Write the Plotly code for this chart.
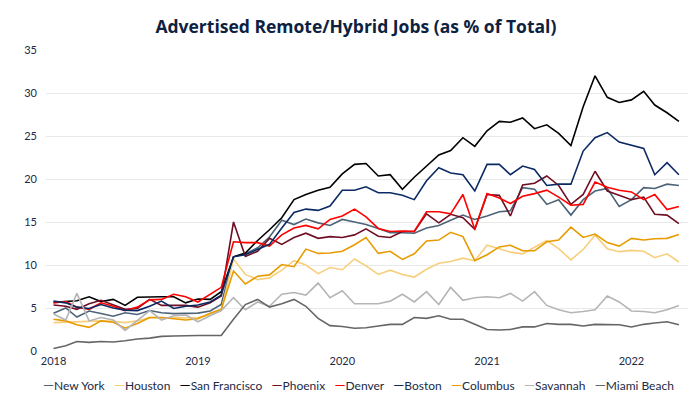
import pandas as pd
import plotly.graph_objects as go

months = pd.date_range("2018-01-01", periods=53, freq="MS")

series_names = ["New York", "Houston", "San Francisco", "Phoenix", "Denver",
                "Boston", "Columbus", "Savannah", "Miami Beach"]
series_colors = ["#4d6478", "#f7cf7c", "#000000", "#6e0f24", "#ff0000",
                 "#0b2a63", "#e89b00", "#b5b5b5", "#666666"]

new_york = [4.4, 5.0, 3.95, 4.65, 4.35, 4.05, 4.45, 4.25, 4.7, 4.45, 4.35, 4.35, 4.4, 4.65, 5.4,
            10.95, 11.3, 12.0, 13.25, 15.2, 14.7, 15.35,
            14.9, 14.6, 15.3, 15.0, 14.7, 14.25, 13.75, 13.75, 13.7, 14.3, 14.6, 15.2, 15.8, 15.3,
            15.7, 16.2, 16.3, 19.0, 18.8, 17.05, 17.6, 15.8, 17.6, 18.6, 18.9, 16.8, 17.6, 19.0,
            18.9, 19.4, 19.25]
houston = [3.3, 3.35, 3.4, 3.5, 3.5, 3.45, 3.3, 3.5, 3.9, 3.8, 3.9, 3.85, 3.9, 4.2, 4.7,
           10.7, 8.9, 8.3, 8.5, 9.4, 10.5, 10.0,
           9.0, 9.7, 9.45, 10.7, 9.9, 8.9, 9.4, 8.9, 8.6, 9.5, 10.2, 10.4, 10.8, 10.5,
           12.3, 11.9, 11.5, 11.3, 12.1, 12.85, 11.9, 10.6, 11.8, 13.45, 11.9, 11.55, 11.7, 11.6,
           10.85, 11.3, 10.35]
san_francisco = [5.65, 5.8, 5.85, 6.3, 5.75, 6.0, 5.3, 6.25, 6.3, 6.3, 6.3, 5.6, 6.05, 6.0, 6.9,
                 10.95, 11.4, 12.85, 14.1, 15.5, 17.6, 18.2,
                 18.7, 19.05, 20.6, 21.7, 21.8, 20.35, 20.5, 18.8, 20.2, 21.5, 22.8, 23.3, 24.8, 23.8,
                 25.6, 26.7, 26.6, 27.1, 25.85, 26.3, 25.3, 23.9, 28.4, 32.0, 29.5, 28.9, 29.2, 30.2,
                 28.6, 27.7, 26.7]
phoenix = [5.35, 5.2, 4.85, 5.5, 5.9, 5.4, 4.85, 4.95, 6.0, 5.3, 5.3, 5.3, 5.1, 5.6, 6.4,
           15.0, 11.0, 11.6, 13.1, 12.4, 13.2, 13.7,
           13.1, 13.3, 13.2, 13.5, 14.2, 13.35, 13.2, 13.9, 13.9, 15.95, 14.9, 15.9, 15.5, 14.15,
           18.2, 18.1, 15.7, 19.3, 19.5, 20.35, 19.25, 17.05, 18.2, 20.9, 18.6, 18.1, 17.6, 17.9,
           15.9, 15.8, 14.8]
denver = [5.6, 5.75, 5.1, 4.85, 5.6, 5.2, 4.7, 5.1, 5.95, 6.0, 6.6, 6.3, 5.7, 6.6, 7.4,
          12.7, 12.6, 12.6, 12.2, 13.5, 14.3, 14.6,
          14.2, 15.3, 15.7, 16.5, 15.6, 14.25, 13.9, 13.95, 13.9, 16.2, 16.2, 15.95, 18.2, 14.15,
          18.3, 17.8, 17.15, 18.0, 18.3, 18.7, 17.9, 16.95, 17.05, 19.65, 19.05, 18.7, 18.5, 17.6,
          18.2, 16.45, 16.8]
boston = [5.8, 5.6, 5.1, 4.95, 5.4, 5.0, 4.75, 4.7, 5.2, 5.8, 4.95, 5.2, 5.35, 5.7, 6.5,
          10.95, 11.2, 11.8, 12.4, 14.3, 16.1, 16.5,
          16.35, 16.85, 18.7, 18.7, 19.1, 18.4, 18.4, 18.1, 17.6, 19.8, 21.3, 20.7, 20.5, 18.6,
          21.7, 21.7, 20.5, 21.5, 21.1, 19.25, 19.4, 19.4, 23.25, 24.8, 25.4, 24.3, 23.95, 23.55,
          20.5, 21.9, 20.5]
columbus = [3.7, 3.5, 3.05, 2.75, 3.5, 3.35, 2.65, 3.2, 3.9, 3.9, 3.75, 3.6, 3.75, 4.4, 4.85,
            9.3, 7.8, 8.7, 8.85, 10.05, 9.8, 11.85,
            11.35, 11.4, 11.6, 12.35, 13.2, 11.35, 11.6, 10.65, 11.3, 12.8, 12.9, 13.8, 13.3, 10.5,
            11.2, 12.1, 12.3, 11.65, 11.65, 12.7, 12.9, 14.4, 13.2, 13.6, 12.6, 12.2, 13.1, 12.9,
            13.05, 13.1, 13.55]
savannah = [4.3, 3.6, 6.7, 3.5, 3.9, 3.6, 2.4, 3.6, 4.7, 3.6, 4.1, 4.2, 3.4, 4.1, 4.7,
            6.2, 4.8, 5.7, 5.2, 6.6, 6.8, 6.5, 7.9, 6.2, 7.0, 5.5,
            5.5, 5.5, 5.8, 6.6, 5.7, 6.9, 5.4, 7.4, 5.9, 6.2, 6.3, 6.2, 6.7, 5.8, 6.9, 5.3, 4.8,
            4.45, 4.6, 4.8, 6.4, 5.7, 4.65, 4.6, 4.45, 4.8, 5.3]
miami_beach = [0.3, 0.6, 1.1, 1.0, 1.1, 1.05, 1.2, 1.4, 1.5, 1.7, 1.75, 1.8, 1.8, 1.8, 1.8,
               3.7, 5.4, 6.0, 5.1, 5.5, 6.0, 5.2,
               3.8, 2.95, 2.85, 2.65, 2.7, 2.9, 3.1, 3.1, 3.9, 3.8, 4.1, 3.7, 3.7, 3.1,
               2.5, 2.45, 2.5, 2.8, 2.8, 3.2, 3.1, 3.1, 2.9, 3.1, 3.1, 3.05, 2.8, 3.1,
               3.25, 3.4, 3.05]

year_ticks = ["2018-01-01", "2019-01-01", "2020-01-01", "2021-01-01", "2022-01-01"]
year_labels = ["2018", "2019", "2020", "2021", "2022"]
y_ticks = [0, 5, 10, 15, 20, 25, 30, 35]

all_series = [new_york, houston, san_francisco, phoenix, denver,
              boston, columbus, savannah, miami_beach]

TEXT = "#1c2a45"
FONT = "Lato, 'Noto Sans', sans-serif"
TITLE_FONT = "'Open Sans', 'Noto Sans', sans-serif"

fig = go.Figure()
for name, color, vals in zip(series_names, series_colors, all_series):
    fig.add_trace(go.Scatter(x=months, y=vals, mode="lines", name=name,
                             line=dict(color=color, width=1.6), showlegend=False))

legend_text = "&nbsp;&nbsp;&nbsp;".join(
    f'<span style="color:{c};font-size:14px">—</span>{n}'
    for n, c in zip(series_names, series_colors))
fig.add_annotation(text=legend_text, xref="paper", yref="paper", x=0.487, y=-0.11,
                   xanchor="center", yanchor="middle", showarrow=False,
                   font=dict(family=FONT, size=12, color=TEXT))

fig.update_layout(
    width=700, height=394,
    margin=dict(l=38, r=20, t=42, b=51),
    paper_bgcolor="white", plot_bgcolor="white",
    title=dict(text="<b>Advertised Remote/Hybrid Jobs (as % of Total)</b>",
               x=0.497, xanchor="center", y=0.952, yanchor="middle",
               font=dict(family=TITLE_FONT, size=17.5, color="#0d2240")),
    font=dict(family=FONT, size=11, color=TEXT),
)
fig.update_xaxes(type="date", range=["2017-12-13", "2022-05-24"],
                 tickvals=year_ticks, ticktext=year_labels,
                 showgrid=False, zeroline=False, showline=False, ticks="",
                 ticklabelstandoff=2, tickfont=dict(size=11, color=TEXT))
fig.update_yaxes(range=[0, 35], tickvals=y_ticks, showgrid=True, gridcolor="#e9e9e9",
                 gridwidth=1, zeroline=False, showline=False, ticks="",
                 ticklabelstandoff=8, tickfont=dict(size=11, color=TEXT))

fig.write_html("out.html")
